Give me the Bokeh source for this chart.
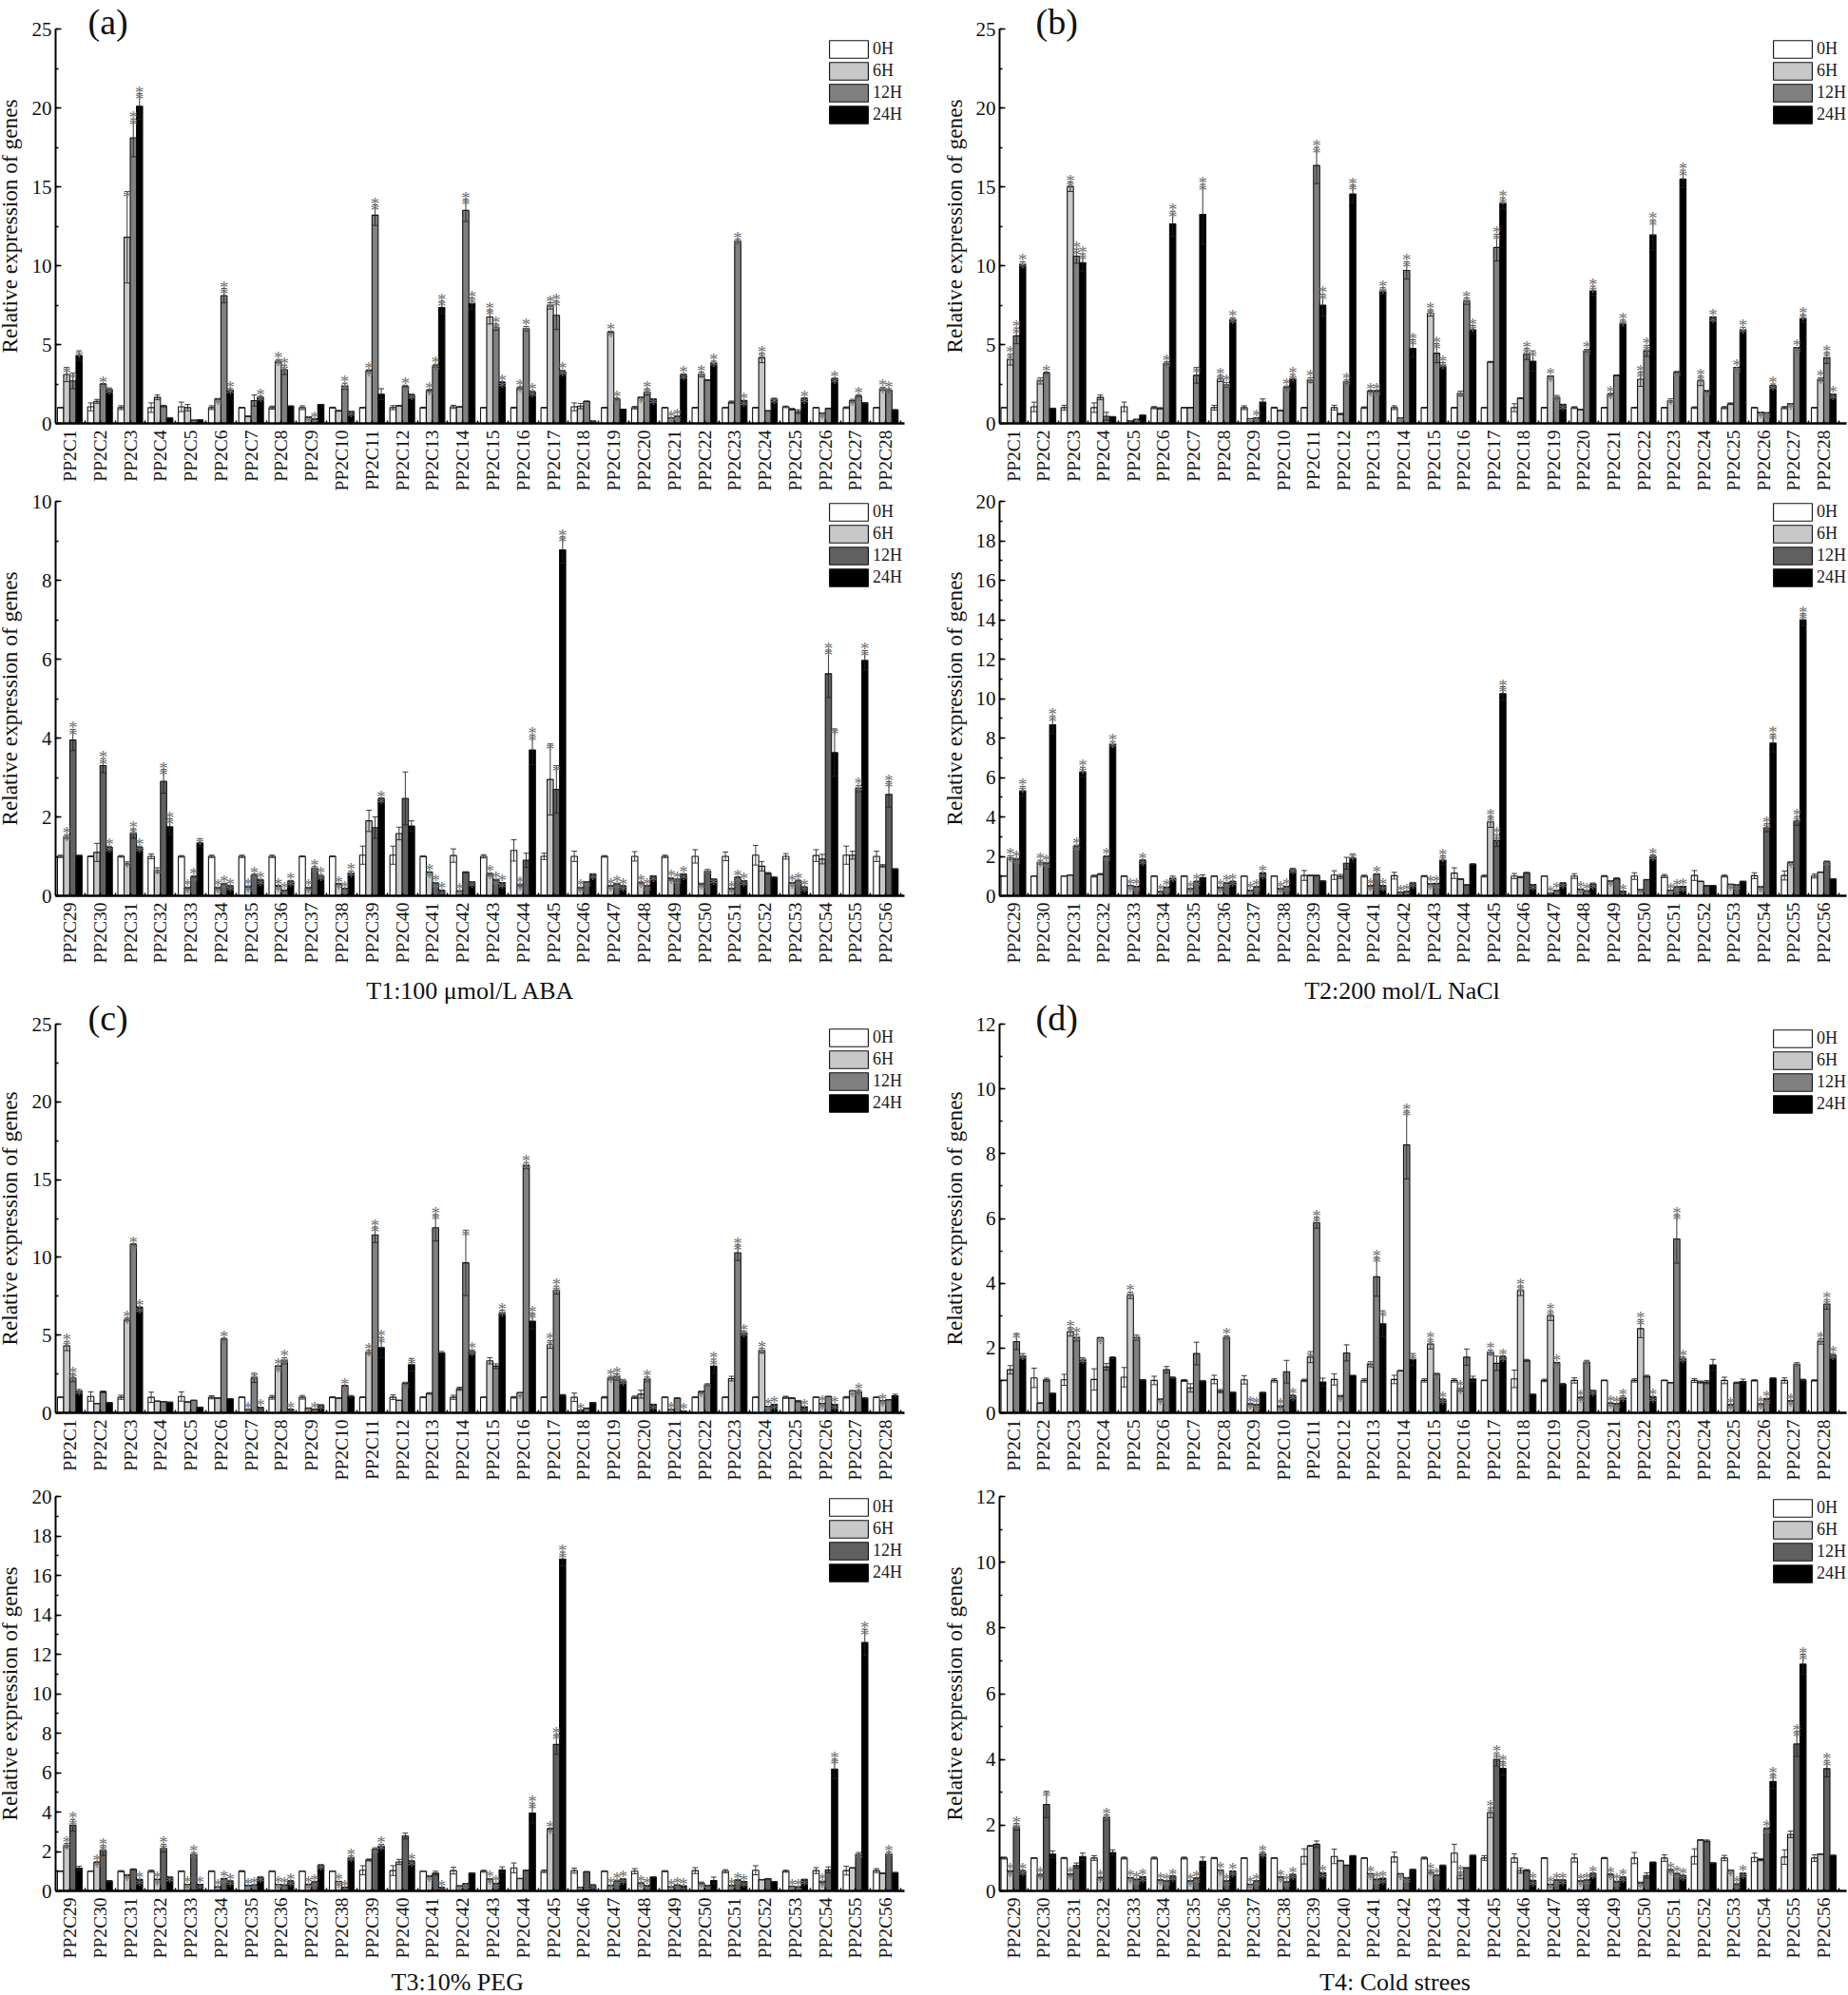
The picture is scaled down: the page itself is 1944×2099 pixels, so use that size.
import numpy as np
from bokeh.plotting import figure
from bokeh.layouts import column, row
from bokeh.models import FixedTicker, Legend, LegendItem
from bokeh.core.properties import value
from bokeh.embed import file_html
from bokeh.resources import INLINE

series_names = ["0H", "6H", "12H", "24H"]
genes_top = ["PP2C%d" % i for i in range(1, 29)]
genes_bottom = ["PP2C%d" % i for i in range(29, 57)]

# texts placed on the page: (a)...(d) and the four captions
tag_texts = ["(a)", "(b)", "(c)", "(d)"]
caption_texts = ["T1:100 \u03bcmol/L ABA", "T2:200 mol/L NaCl", "T3:10%  PEG", "T4: Cold strees"]

# each row: one gene, columns 0H, 6H, 12H, 24H
a1_v = [(1.0,3.1,2.7,4.3),(1.05,1.4,2.5,2.15),(1.0,11.8,18.1,20.1),(1.0,1.65,1.1,.35),(1.05,1.0,.2,.22),(1.0,1.55,8.1,2.1),(1.0,.45,1.45,1.65),(1.0,3.95,3.4,1.1),(1.0,.4,.28,1.2),(1.0,.8,2.35,.75),(1.0,3.35,13.2,1.85),(1.0,1.12,2.35,1.8),(1.0,2.1,3.65,7.35),(1.05,1.05,13.5,7.6),(1.0,6.75,6.1,2.6),(1.0,2.25,6.0,2.0),(1.0,7.45,6.85,3.3),(1.05,1.1,1.4,.15),(1.0,5.8,1.55,.9),(1.0,1.65,2.0,1.55),(1.0,.35,.45,3.1),(1.0,3.1,2.75,3.8),(1.0,1.35,11.55,1.45),(1.0,4.15,.8,1.55),(1.05,.9,.75,1.6),(1.0,.65,.95,2.85),(1.0,1.45,1.75,1.3),(1.0,2.2,2.1,.85)]
a1_e = [(.02,.45,.5,.3),(.25,.12,.02,.1),(.12,2.9,1.2,.8),(.3,.15,.05,.02),(.3,.2,.02,.02),(.12,.03,.45,.1),(.02,.02,.35,.07),(.1,.1,.3,.01),(.12,.03,.02,.01),(.03,.03,.2,.02),(.02,.05,.65,.35),(.13,.01,.07,.07),(.03,.05,.1,.4),(.1,.01,.7,.35),(.01,.45,.2,.05),(.03,.07,.15,.07),(.01,.2,.9,.08),(.25,.17,.02,.01),(.02,.05,.05,.01),(.08,.02,.2,.02),(.01,.01,.02,.05),(.02,.15,.01,.15),(.01,.07,.12,.02),(.02,.3,.01,.05),(.05,.05,.12,.02),(.01,.02,.02,.02),(.05,.08,.08,.01),(.01,.1,.1,.03)]
a1_s = "0111 0021 0122 0000 0010 0122 0002 0220 0120 0021 0220 0021 0222 0022 0222 0222 0222 0001 0220 0121 0222 0202 0022 0201 0002 0102 0120 0220".split()

a2_v = [(1.0,1.5,3.95,1.02),(1.0,1.1,3.3,1.23),(1.0,.82,1.58,1.23),(1.0,.65,2.9,1.75),(1.0,.2,.48,1.35),(1.0,.2,.3,.25),(1.0,.23,.52,.4),(1.0,.25,.14,.37),(1.0,.2,.7,.5),(1.0,.3,.18,.58),(1.03,1.9,1.73,2.47),(1.03,1.58,2.47,1.77),(1.0,.6,.32,.14),(1.02,.12,.6,.35),(1.0,.55,.4,.33),(1.15,.27,.9,3.7),(1.0,2.95,2.7,8.77),(1.0,.2,.35,.55),(1.0,.25,.3,.25),(1.0,.33,.25,.5),(1.0,.43,.4,.55),(1.0,.3,.62,.42),(1.0,.18,.47,.38),(1.03,.75,.57,.47),(1.0,.33,.38,.22),(1.02,.93,5.63,3.63),(1.03,1.03,2.72,5.97),(1.0,.76,2.57,.68)]
a2_e = [(.03,.05,.27,.01),(.01,.23,.18,.03),(.02,.04,.12,.03),(.06,.06,.3,.2),(.02,.02,.03,.1),(.03,.02,.02,.01),(.03,.02,.03,.02),(.03,.01,.01,.02),(.01,.02,.04,.04),(.01,.01,.01,.05),(.23,.27,.27,.01),(.23,.16,.67,.13),(.01,.01,.02,.01),(.17,.01,.01,.01),(.04,.03,.02,.01),(.27,.03,.18,.38),(.08,.9,.6,.33),(.13,.02,.01,.01),(.02,.01,.02,.01),(.12,.02,.01,.01),(.03,.03,.03,.01),(.17,.02,.05,.01),(.11,.01,.01,.01),(.25,.12,.02,.01),(.07,.01,.02,.01),(.15,.12,.6,.6),(.23,.1,.08,.25),(.13,.03,.32,.01)]
a2_s = "0220 0022 0122 0122 0221 0222 0222 0222 0222 0222 0002 0000 0222 0201 0222 0202 0112 0211 0222 0221 0222 0111 0222 0000 0222 0021 0022 0020".split()

b1_v = [(1.0,4.05,5.55,10.05),(1.05,2.7,3.2,.95),(1.0,15.0,10.6,10.2),(1.0,1.65,.45,.42),(1.05,.15,.25,.52),(1.0,.95,3.8,12.65),(1.0,1.0,3.05,13.25),(1.0,2.85,2.45,6.6),(1.0,.3,.35,1.35),(1.0,.82,2.3,2.85),(1.0,2.75,16.35,7.5),(1.0,.6,2.65,14.55),(1.0,2.05,2.05,8.4),(1.0,.35,9.7,4.75),(1.0,7.0,4.45,3.65),(1.0,1.9,7.75,5.95),(1.0,3.9,11.15,13.95),(1.0,1.6,4.4,3.95),(1.0,3.0,1.65,1.2),(1.0,.88,4.6,8.4),(1.0,1.85,3.05,6.35),(1.0,2.8,4.6,11.95),(1.0,1.45,3.25,15.5),(1.0,2.7,2.05,6.75),(1.0,1.25,3.55,5.9),(1.0,.7,.67,2.4),(1.0,1.25,4.8,6.65),(1.0,2.8,4.15,1.85)]
b1_e = [(.01,.35,.5,.2),(.3,.2,.05,.02),(.15,.3,.45,.55),(.3,.15,.25,.02),(.3,.02,.02,.01),(.07,.05,.1,.8),(.01,.01,.5,1.9),(.15,.2,.15,.1),(.12,.01,.02,.2),(.03,.01,.07,.25),(.01,.15,1.15,.7),(.15,.04,.1,.55),(.05,.05,.05,.2),(.12,.01,.55,.55),(.02,.2,.6,.2),(.02,.15,.2,.25),(.01,.03,.85,.35),(.25,.03,.35,.65),(.02,.02,.12,.02),(.06,.01,.1,.3),(.01,.05,.02,.2),(.02,.45,.35,.95),(.01,.12,.05,.55),(.05,.3,.05,.01),(.07,.05,.01,.2),(.01,.01,.01,.1),(.07,.01,.02,.25),(.01,.1,.35,.02)]
b1_s = "0222 0120 0222 0000 0110 0022 0012 0222 0120 0022 0222 0022 0222 0122 0222 0122 0022 0021 0211 0022 0202 0222 0112 0212 0022 0112 0122 0222".split()

b2_v = [(1.0,1.93,1.85,5.3),(1.0,1.7,1.65,8.67),(1.0,1.05,2.52,6.27),(1.0,1.1,2.0,7.67),(1.0,.52,.47,1.8),(1.0,.2,.43,.88),(1.0,.35,.72,.93),(1.0,.42,.65,.72),(1.0,.27,.45,1.15),(1.0,.35,.47,1.33),(1.03,1.03,1.03,.75),(1.05,.98,1.65,1.92),(1.0,.5,1.1,.52),(1.02,.17,.22,.65),(1.0,.6,.62,1.8),(1.15,.85,.55,1.6),(1.0,3.75,2.8,10.25),(1.0,.95,1.17,.57),(1.0,.12,.27,.65),(1.0,.33,.25,.6),(1.0,.75,.88,.23),(1.0,.3,.82,2.0),(1.0,.27,.45,.48),(1.03,.73,.5,.52),(1.0,.58,.55,.73),(1.02,.45,3.45,7.75),(1.03,1.7,3.8,14.0),(1.0,1.2,1.73,.85)]
b2_e = [(.01,.1,.05,.25),(.01,.1,.05,.45),(.01,.01,.05,.25),(.05,.03,.03,.15),(.02,.01,.02,.03),(.02,.02,.02,.12),(.02,.02,.03,.13),(.02,.03,.03,.03),(.01,.02,.02,.03),(.01,.02,.02,.07),(.25,.01,.01,.01),(.22,.1,.3,.2),(.05,.03,.02,.01),(.17,.01,.01,.03),(.03,.03,.02,.22),(.27,.02,.01,.03),(.05,.28,.3,.35),(.13,.03,.02,.01),(.01,.01,.02,.02),(.12,.02,.01,.05),(.03,.02,.03,.01),(.17,.02,.01,.07),(.08,.01,.01,.01),(.25,.01,.02,.01),(.05,.02,.02,.01),(.15,.02,.2,.45),(.23,.02,.22,.3),(.1,.01,.03,.01)]
b2_s = "0222 0222 0022 0022 0222 0221 0220 0222 0222 0221 0000 0001 0222 0221 0222 0000 0222 0001 0221 0221 0102 0102 0222 0000 0110 0122 0122 0010".split()

c1_v = [(1.0,4.3,2.25,1.4),(1.05,.6,1.35,.65),(1.0,6.0,10.85,6.8),(1.0,.75,.72,.68),(1.05,.7,.8,.35),(1.0,.95,4.75,.9),(1.0,.2,2.25,.35),(1.0,3.0,3.35,.22),(1.0,.3,.22,.5),(1.0,.95,1.75,1.05),(1.0,3.9,11.45,4.2),(1.0,.8,1.9,3.1),(1.0,1.25,11.9,3.85),(1.0,1.55,9.65,3.95),(1.0,3.35,3.0,6.4),(1.0,1.3,15.9,5.9),(1.0,4.4,7.9,1.15),(1.0,.15,.3,.65),(1.0,2.25,2.3,2.05),(1.0,1.2,2.15,.55),(1.0,.2,.95,.12),(1.0,1.35,1.8,3.0),(1.0,2.2,10.3,5.15),(1.0,4.0,.42,.55),(1.0,.95,.75,.38),(1.0,.6,1.05,.55),(1.0,1.42,1.35,.95),(1.0,.78,.85,1.1)]
c1_e = [(.01,.3,.25,.1),(.3,.01,.05,.01),(.13,.1,.02,.01),(.33,.01,.01,.01),(.3,.01,.01,.01),(.1,.01,.05,.01),(.02,.02,.3,.02),(.12,.02,.2,.02),(.12,.02,.02,.02),(.03,.01,.02,.07),(.02,.12,.5,.65),(.15,.01,.07,.4),(.02,.05,.85,.1),(.13,.1,2.1,.1),(.01,.2,.15,.2),(.05,.01,.2,.5),(.01,.25,.25,.03),(.27,.01,.01,.01),(.05,.1,.2,.1),(.08,.25,.15,.01),(.01,.01,.01,.01),(.02,.05,.07,.45),(.01,.15,.5,.1),(.02,.15,.01,.01),(.07,.03,.05,.01),(.01,.02,.01,.01),(.05,.01,.1,.01),(.01,.01,.01,.1)]
c1_s = "0221 0000 0222 0000 0000 0020 0212 0222 0121 0020 0222 0011 0020 0012 0002 0122 0220 0200 0221 0021 0202 0112 0022 0222 0002 0202 0120 0200".split()

c2_v = [(1.0,2.3,3.33,1.15),(1.0,1.45,2.05,.5),(1.0,.8,1.1,.58),(1.0,.58,2.17,.7),(1.0,.33,1.85,.33),(1.0,.2,.62,.5),(1.0,.27,.3,.68),(1.0,.33,.3,.5),(1.0,.33,.45,1.3),(1.0,.48,.18,1.67),(1.05,1.57,2.12,2.27),(1.03,1.47,2.78,1.52),(1.0,.75,.9,.17),(1.03,.25,.37,.9),(1.0,.6,.38,1.07),(1.17,.63,1.05,3.95),(1.0,3.15,7.43,16.83),(1.03,.18,.97,.3),(1.0,.28,.5,.6),(1.0,.4,.27,.7),(1.0,.2,.3,.25),(1.03,.4,.27,.53),(1.0,.27,.55,.47),(1.05,.57,.62,.47),(1.0,.23,.2,.58),(1.03,.45,1.07,6.18),(1.03,1.17,1.85,12.6),(1.03,.9,1.87,.93)]
c2_e = [(.02,.1,.3,.1),(.01,.02,.25,.03),(.03,.03,.02,.02),(.05,.02,.2,.03),(.02,.01,.1,.01),(.02,.01,.02,.02),(.03,.01,.01,.05),(.02,.01,.01,.03),(.01,.02,.01,.04),(.01,.01,.01,.1),(.23,.05,.07,.1),(.25,.13,.15,.01),(.01,.03,.1,.01),(.17,.02,.01,.02),(.05,.03,.02,.15),(.25,.01,.01,.5),(.07,.03,.5,.35),(.13,.01,.01,.02),(.02,.02,.05,.03),(.13,.02,.02,.01),(.03,.01,.01,.01),(.15,.05,.01,.17),(.08,.01,.01,.01),(.23,.01,.01,.01),(.05,.01,.01,.02),(.15,.05,.15,.5),(.22,.01,.1,.67),(.1,.01,.1,.01)]
c2_s = "0220 0220 0102 0221 0222 0222 0221 0222 0221 0222 0012 0002 0102 0110 0220 0002 0222 0101 0222 0220 0222 0110 0222 0000 0221 0202 0012 0020".split()

d1_v = [(1.0,1.33,2.2,1.75),(1.08,.3,1.02,.6),(1.02,2.5,2.32,1.65),(1.03,2.32,1.42,1.7),(1.1,3.63,2.32,1.02),(1.0,.42,1.33,1.08),(1.0,.77,1.83,.98),(1.03,.67,2.33,.63),(1.02,.27,.25,.62),(1.0,.2,1.27,.53),(1.0,1.72,5.87,.95),(1.03,.52,1.85,1.15),(1.0,1.5,4.2,2.75),(1.03,1.3,8.27,1.65),(1.0,2.12,1.2,.42),(1.0,.72,1.72,1.05),(1.0,1.87,1.53,1.73),(1.05,3.77,1.62,.57),(1.0,3.0,1.55,.88),(1.0,.47,1.57,.68),(1.0,.3,.28,.47),(1.0,2.6,1.13,.5),(1.0,.93,5.37,1.68),(1.0,.95,.95,1.48),(1.0,.25,.93,.97),(1.0,.27,.43,1.07),(1.0,.37,1.5,1.02),(1.0,2.2,3.35,1.78)]
d1_e = [(.01,.13,.25,.08),(.3,.01,.05,.01),(.17,.13,.1,.05),(.33,.01,.1,.03),(.3,.1,.08,.01),(.13,.01,.1,.03),(.03,.13,.35,.02),(.13,.05,.05,.01),(.13,.02,.01,.02),(.05,.02,.35,.02),(.04,.17,.17,.12),(.17,.02,.25,.01),(.05,.08,.6,.4),(.13,.01,1.05,.18),(.05,.15,.02,.01),(.05,.05,.25,.08),(.01,.07,.22,.03),(.27,.15,.03,.01),(.04,.15,.01,.03),(.08,.02,.05,.02),(.01,.01,.01,.05),(.05,.28,.03,.01),(.01,.01,.75,.04),(.06,.03,.05,.17),(.1,.01,.02,.07),(.02,.01,.02,.01),(.08,.01,.05,.02),(.02,.08,.15,.05)]
d1_s = "0011 0000 0221 0100 0210 0100 0000 0020 0220 0202 0120 0100 0121 0021 0212 0200 0202 0200 0220 0211 0222 0202 0022 0000 0200 0220 0210 0222".split()

d2_v = [(1.0,.6,1.95,.6),(1.0,.48,2.63,1.12),(1.0,.5,.77,1.05),(1.0,.4,2.23,1.17),(1.0,.4,.35,.43),(1.0,.33,.3,.45),(1.0,.3,.38,.9),(1.0,.63,.3,.6),(1.0,.2,.3,1.13),(1.0,.42,.27,.5),(1.05,1.37,1.42,.55),(1.05,.92,.78,1.07),(1.0,.52,.35,.38),(1.03,.52,.4,.65),(1.0,.58,.47,.77),(1.15,.47,.7,1.08),(1.0,2.38,4.0,3.73),(1.0,.62,.63,.32),(1.0,.2,.33,.33),(1.0,.3,.33,.53),(1.0,.5,.28,.42),(1.0,.25,.47,.87),(1.0,.63,.52,.47),(1.05,1.55,1.52,.85),(1.0,.63,.2,.53),(1.02,.95,1.9,3.33),(1.03,1.72,4.47,6.9),(1.0,1.12,3.72,1.08)]
d2_e = [(.03,.02,.1,.03),(.01,.03,.4,.1),(.02,.02,.08,.1),(.07,.02,.08,.08),(.03,.01,.01,.01),(.03,.01,.01,.01),(.03,.01,.02,.13),(.02,.01,.01,.01),(.01,.01,.01,.05),(.01,.01,.01,.01),(.23,.01,.1,.01),(.22,.01,.01,.01),(.01,.01,.01,.01),(.15,.01,.01,.01),(.03,.05,.02,.02),(.27,.1,.01,.01),(.07,.15,.2,.2),(.13,.08,.02,.01),(.01,.01,.01,.01),(.12,.01,.01,.01),(.02,.02,.02,.02),(.17,.02,.08,.01),(.1,.03,.02,.01),(.23,.01,.03,.01),(.08,.01,.02,.02),(.13,.03,.02,.22),(.22,.1,.38,.3),(.1,.01,.25,.01)]
d2_s = "0222 0210 0200 0220 0222 0222 0220 0222 0222 0222 0002 0000 0222 0110 0220 0200 0222 0002 0222 0222 0222 0100 0222 0000 0122 0022 0022 0020".split()

FONT = "Liberation Serif"
DARK_12 = "#606060"
MID_12 = "#808080"


def panel(vals, errs, stars, genes, ymax, major, minor, c12, col, y0, top, F, bottom, legend_top, margin=None):
    if col == 0:
        w, ml, mr, x0, x1, standoff = 988, 66, 29, 0.53, 28.62, 8
    else:
        w, ml, mr, x0, x1, standoff = 964, 71, 2, 0.54, 28.76, 7
    fw = w - ml - mr
    bar_w = 6.5 / (fw / (x1 - x0))
    p = figure(width=w, height=top + F + bottom, x_range=(x0, x1), y_range=(0, ymax),
               output_backend="svg", toolbar_location=None,
               min_border_left=ml, min_border_right=mr, min_border_top=top, min_border_bottom=bottom,
               background_fill_color=None, border_fill_color=None, outline_line_color=None)
    if margin:
        p.margin = margin
    p.grid.visible = False
    frame_bottom = y0 + top + F

    x = p.xaxis[0]
    x.ticker = FixedTicker(ticks=list(range(1, 29)), minor_ticks=[i + 0.5 for i in range(0, 29)])
    x.major_label_overrides = {i + 1: g for i, g in enumerate(genes)}
    x.major_label_orientation = np.pi / 2
    x.major_label_text_font = FONT
    x.major_label_text_font_size = "19.5px"
    x.major_label_text_color = "#111111"
    x.major_label_standoff = 7
    x.major_tick_in, x.major_tick_out = 3, 0
    x.minor_tick_in, x.minor_tick_out = 3, 0
    x.axis_line_width = 2.5
    x.major_tick_line_width = x.minor_tick_line_width = 1.5
    y = p.yaxis[0]
    y.ticker = FixedTicker(ticks=list(np.arange(0, ymax + .01, major)),
                           minor_ticks=list(np.arange(0, ymax + .01, minor)))
    y.major_label_text_font = FONT
    y.major_label_text_font_size = "21px"
    y.major_label_text_color = "#111111"
    y.major_label_standoff = 4
    y.major_tick_in, y.major_tick_out = 6, 0
    y.minor_tick_in, y.minor_tick_out = 3, 0
    y.axis_line_width = 2
    y.major_tick_line_width = y.minor_tick_line_width = 1.5
    y.axis_label = "Relative expression of genes"
    y.axis_label_text_font = FONT
    y.axis_label_text_font_style = "normal"
    y.axis_label_text_font_size = "23.3px"
    y.axis_label_text_color = "#111111"
    y.axis_label_standoff = standoff

    V = np.array(vals)
    E = np.array(errs)
    fills = ["#ffffff", "#c8c8c8", c12, "#000000"]
    centers = np.arange(1, 29)
    items = []
    one_x, one_y, two_x, two_y = [], [], [], []
    cap = bar_w * 0.45
    for j in range(4):
        xs = centers + (j - 1.5) * bar_w
        r = p.vbar(x=xs, top=V[:, j], width=bar_w, bottom=0, fill_color=fills[j],
                   line_color="#111111", line_width=1.1)
        items.append(LegendItem(label=series_names[j], renderers=[r]))
        up, lo = V[:, j] + E[:, j], V[:, j] - E[:, j]
        p.segment(xs, lo, xs, up, line_color="#222222", line_width=0.9)
        p.segment(xs - cap, up, xs + cap, up, line_color="#222222", line_width=0.9)
        p.segment(xs - cap, lo, xs + cap, lo, line_color="#222222", line_width=0.9)
        for i in range(28):
            n = int(stars[i][j])
            if n >= 1:
                one_x.append(xs[i]); one_y.append(up[i])
            if n == 2:
                two_x.append(xs[i]); two_y.append(up[i])
    tk = dict(text_font=value(FONT), text_font_size="19px", text_color="#707070",
              text_align="center", text_baseline="alphabetic")
    p.text(one_x, one_y, text=["*"] * len(one_x), y_offset=6, **tk)
    if two_x:
        p.text(two_x, two_y, text=["*"] * len(two_x), y_offset=-1.5, **tk)

    leg = Legend(items=items, location=(809, frame_bottom - (legend_top - 2.3 + 92)),
                 orientation="vertical", glyph_width=51, glyph_height=23, spacing=0,
                 padding=0, margin=0, label_standoff=0, label_width=34, label_height=20,
                 label_text_font=FONT, label_text_font_size="18px", label_text_color="#222222",
                 border_line_color=None, background_fill_color=None)
    p.add_layout(leg)
    return p


# page y of each figure's top, top border, frame height, bottom border
R1 = dict(y0=0, top=30, F=415, bottom=79)        # frame 30..445, ends 524
R2 = dict(y0=512, top=15, F=415, bottom=110)     # frame 527..942, ends 1052
R3 = dict(y0=1040, top=37, F=416, bottom=67)     # frame 1077..1493, ends 1560
R4 = dict(y0=1560, top=14, F=415, bottom=110)    # frame 1574..1989, ends 2099
M = (-12, 0, 0, 0)

pa1 = panel(a1_v, a1_e, a1_s, genes_top, 25, 5, 2.5, MID_12, 0, legend_top=42, **R1)
pa2 = panel(a2_v, a2_e, a2_s, genes_bottom, 10, 2, 1, DARK_12, 0, legend_top=529, margin=M, **R2)
pc1 = panel(c1_v, c1_e, c1_s, genes_top, 25, 5, 2.5, MID_12, 0, legend_top=1089, margin=M, **R3)
pc2 = panel(c2_v, c2_e, c2_s, genes_bottom, 20, 2, 1, DARK_12, 0, legend_top=1576, **R4)

pb1 = panel(b1_v, b1_e, b1_s, genes_top, 25, 5, 2.5, MID_12, 1, legend_top=42, **R1)
pb2 = panel(b2_v, b2_e, b2_s, genes_bottom, 20, 2, 1, DARK_12, 1, legend_top=529, margin=M, **R2)
pd1 = panel(d1_v, d1_e, d1_s, genes_top, 12, 2, 1, MID_12, 1, legend_top=1090, margin=M, **R3)
pd2 = panel(d2_v, d2_e, d2_s, genes_bottom, 12, 2, 1, DARK_12, 1, legend_top=1577, **R4)

# transparent page-sized figure on top for the panel tags and captions
overlay = figure(width=1944, height=2099, x_range=(0, 1944), y_range=(2099, 0),
                 output_backend="svg", toolbar_location=None, min_border=0,
                 background_fill_color=None, border_fill_color=None, outline_line_color=None,
                 margin=(-2099, 0, 0, 0))
overlay.axis.visible = False
overlay.grid.visible = False
overlay.text([92, 1089, 92, 1089], [22, 22, 1070, 1070], text=tag_texts, text_font=value(FONT),
             text_font_size="38px", text_color="#111111", text_align="left", text_baseline="middle")
overlay.text([495, 1475, 484, 1467], [1042, 1042, 2085, 2085], text=caption_texts, text_font=value(FONT),
             text_font_size="26px", text_color="#111111", text_align="center", text_baseline="middle")

grid = row(column(pa1, pa2, pc1, pc2, spacing=0, margin=(0, 0, 0, -8)),
           column(pb1, pb2, pd1, pd2, spacing=0), spacing=0)
layout = column(grid, overlay, spacing=0)
open("out.html", "w").write(file_html(layout, INLINE))
